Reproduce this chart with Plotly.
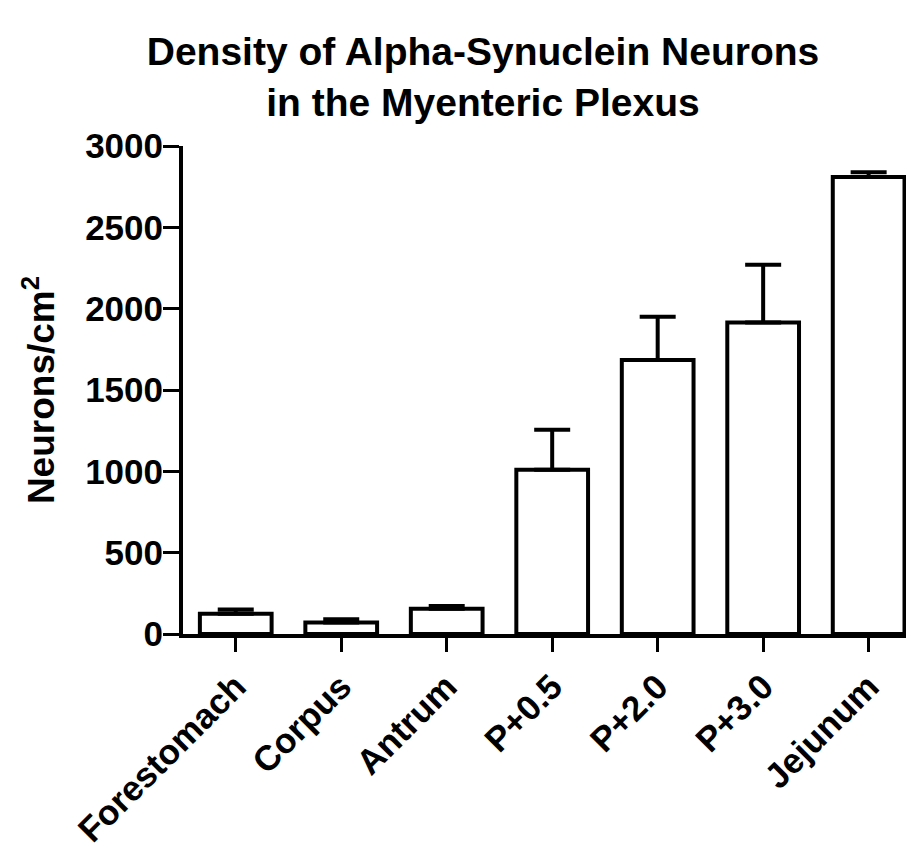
import plotly.graph_objects as go

categories = ["Forestomach", "Corpus", "Antrum", "P+0.5", "P+2.0", "P+3.0", "Jejunum"]
means = [125, 70, 155, 1010, 1685, 1915, 2810]
sem = [25, 20, 17, 245, 265, 355, 28]
y_ticks = [0, 500, 1000, 1500, 2000, 2500, 3000]

FONT = "Liberation Sans, Arial, Helvetica, sans-serif"
# the page body has an 8px margin, so the figure is 8px smaller than the window
W, H = 906, 839

fig = go.Figure()
fig.add_trace(go.Bar(
    x=categories,
    y=means,
    width=0.68,
    marker=dict(color="white", line=dict(color="black", width=4)),
    error_y=dict(type="data", array=sem, arrayminus=[0] * len(sem), symmetric=False,
                 color="black", thickness=4, width=18),
))

fig.update_layout(
    width=W, height=H,
    paper_bgcolor="white", plot_bgcolor="white",
    margin=dict(l=175, r=0, t=138, b=213),
    showlegend=False,
    font=dict(family=FONT, color="black", size=35, weight="bold"),
    title=dict(
        text="Density of Alpha-Synuclein Neurons<br>in the Myenteric Plexus",
        font=dict(family=FONT, size=39, color="black", weight="bold"),
        xref="container", x=475 / W, xanchor="center",
        yref="container", y=1 - 57 / H, yanchor="top",
    ),
)

fig.update_xaxes(
    type="category",
    range=[-0.5, 6.43],
    showline=True, linecolor="black", linewidth=4,
    ticks="outside", ticklen=14, tickwidth=3, tickcolor="black",
    tickangle=-45,
    tickfont=dict(family=FONT, size=35, color="black", weight="bold"),
    showgrid=False, zeroline=False,
    automargin=False,
)

fig.update_yaxes(
    range=[0, 3000],
    tickvals=y_ticks,
    ticktext=[str(v) for v in y_ticks],
    showline=True, linecolor="black", linewidth=4,
    ticks="outside", ticklen=16, tickwidth=3, tickcolor="black",
    ticklabelstandoff=-7,
    tickfont=dict(family=FONT, size=35, color="black", weight="bold"),
    showgrid=False, zeroline=False,
    title=dict(text="Neurons/cm<sup>2</sup>", standoff=20,
               font=dict(family=FONT, size=37, color="black", weight="bold")),
    automargin=False,
)

fig.write_html("out.html")
